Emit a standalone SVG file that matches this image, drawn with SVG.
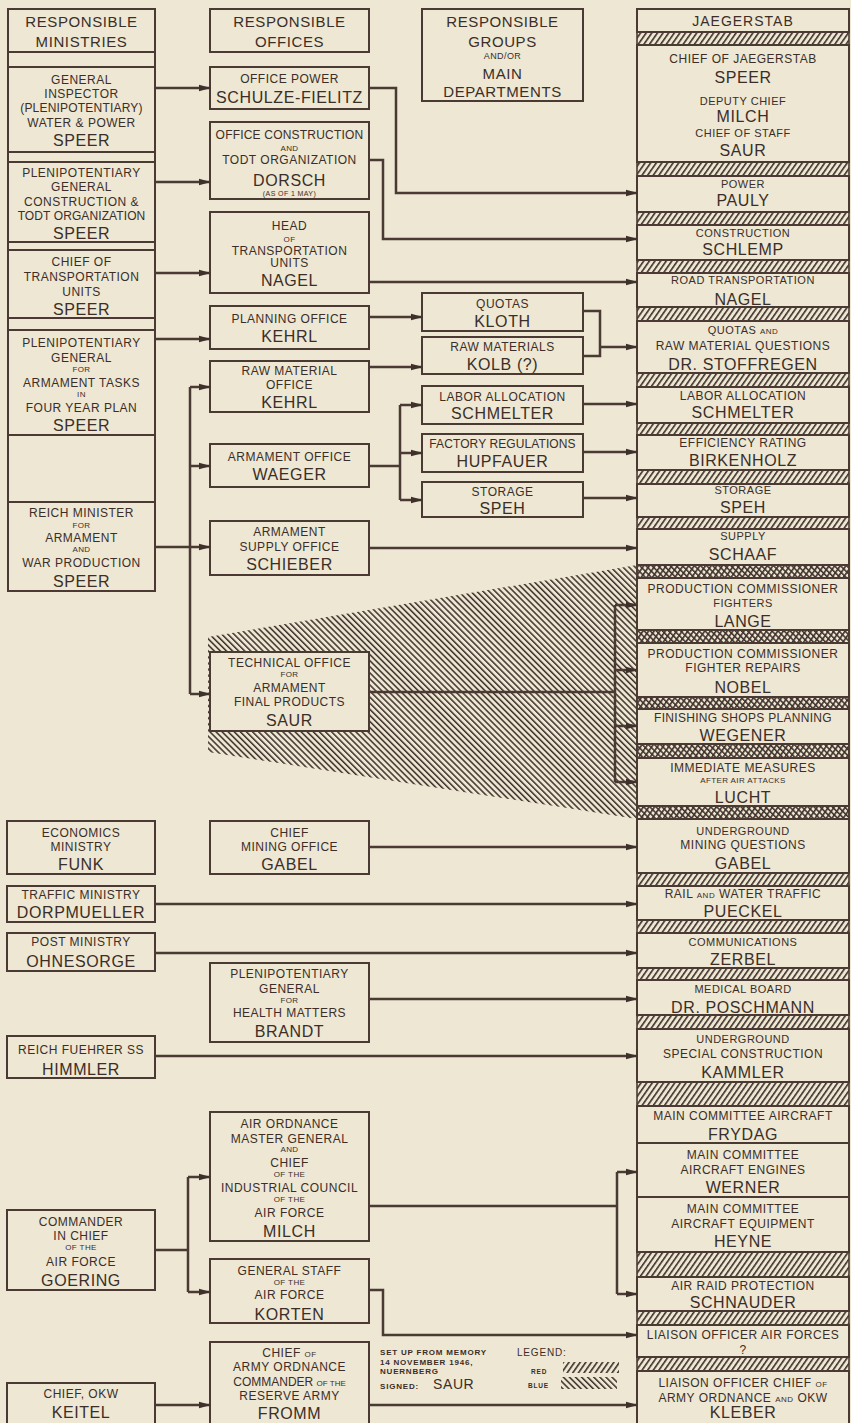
<svg xmlns="http://www.w3.org/2000/svg" width="851" height="1423" viewBox="0 0 851 1423">
<defs>
<style>
.bg{fill:#EDE7D3}
.b{fill:#EDE7D3;stroke:#4a3a33;stroke-width:2}
.st{fill:#EDE7D3;stroke:#4a3a33;stroke-width:2}
.hr{fill:url(#pr);stroke:#4a3a33;stroke-width:1.6}
.hb{fill:url(#pb);stroke:#4a3a33;stroke-width:1.6}
.c{fill:none;stroke:#4a3a33;stroke-width:2.5}
.ca{fill:none;stroke:#4a3a33;stroke-width:2.5;marker-end:url(#ah)}
text{font-family:"Liberation Sans",Arial,sans-serif;fill:#3b2e28;text-anchor:middle}
.h{font-size:15px;letter-spacing:0.6px}
.s{font-size:12px;letter-spacing:0.5px}
.n{font-size:16px;letter-spacing:0.6px}
.x{font-size:8px;letter-spacing:0.4px}
.l{font-size:8px;letter-spacing:0.8px;font-weight:bold;text-anchor:start}
</style>
<pattern id="pr" patternUnits="userSpaceOnUse" width="4.6" height="20" patternTransform="rotate(35)"><rect width="1.6" height="20" fill="#3e302a"/></pattern>
<pattern id="pb" patternUnits="userSpaceOnUse" width="4.3" height="20" patternTransform="rotate(-45)"><rect width="1.5" height="20" fill="#3e302a"/></pattern>
<marker id="ah" markerWidth="12" markerHeight="8" refX="11" refY="4" orient="auto" markerUnits="userSpaceOnUse"><path d="M0,0.8 L12,4 L0,7.2 z" fill="#3e302a"/></marker>
</defs>
<rect class="bg" x="0" y="0" width="851" height="1423"/>

<!-- blue funnel -->
<polygon id="funnel" points="208,637 637,565 637,819 208,752" fill="url(#pb)"/>

<!-- Column 1 -->
<g id="col1-frame">
<rect class="st" x="8" y="52" width="147" height="15"/>
<rect class="st" x="8" y="152" width="147" height="10"/>
<rect class="st" x="8" y="242" width="147" height="8"/>
<rect class="st" x="8" y="318" width="147" height="12"/>
<rect class="st" x="8" y="435" width="147" height="67"/>
</g>
<g id="n_ministries"><rect class="b" x="8" y="9" width="147" height="43"/>
<text class="h" x="81.5" y="27">RESPONSIBLE</text><text class="h" x="81.5" y="47">MINISTRIES</text></g>
<g id="n_gen_inspector"><rect class="b" x="8" y="67" width="147" height="85"/>
<text class="s" x="81.5" y="84">GENERAL</text><text class="s" x="81.5" y="98">INSPECTOR</text><text class="s" x="81.5" y="112" style="letter-spacing:0.2px">(PLENIPOTENTIARY)</text><text class="s" x="81.5" y="127">WATER &amp; POWER</text><text class="n" x="81.5" y="146">SPEER</text></g>
<g id="n_plen_construction"><rect class="b" x="8" y="162" width="147" height="80"/>
<text class="s" x="81.5" y="177">PLENIPOTENTIARY</text><text class="s" x="81.5" y="191">GENERAL</text><text class="s" x="81.5" y="206">CONSTRUCTION &amp;</text><text class="s" x="81.5" y="220" style="letter-spacing:0.1px">TODT ORGANIZATION</text><text class="n" x="81.5" y="239">SPEER</text></g>
<g id="n_chief_transport"><rect class="b" x="8" y="250" width="147" height="68"/>
<text class="s" x="81.5" y="266">CHIEF OF</text><text class="s" x="81.5" y="281">TRANSPORTATION</text><text class="s" x="81.5" y="296">UNITS</text><text class="n" x="81.5" y="315">SPEER</text></g>
<g id="n_plen_armament"><rect class="b" x="8" y="330" width="147" height="105"/>
<text class="s" x="81.5" y="347">PLENIPOTENTIARY</text><text class="s" x="81.5" y="362">GENERAL</text><text class="x" x="81.5" y="372">FOR</text><text class="s" x="81.5" y="387">ARMAMENT TASKS</text><text class="x" x="81.5" y="397">IN</text><text class="s" x="81.5" y="412">FOUR YEAR PLAN</text><text class="n" x="81.5" y="431">SPEER</text></g>
<g id="n_reich_minister"><rect class="b" x="8" y="502" width="147" height="89"/>
<text class="s" x="81.5" y="517">REICH MINISTER</text><text class="x" x="81.5" y="528">FOR</text><text class="s" x="81.5" y="542">ARMAMENT</text><text class="x" x="81.5" y="552">AND</text><text class="s" x="81.5" y="567">WAR PRODUCTION</text><text class="n" x="81.5" y="587">SPEER</text></g>
<g id="n_funk"><rect class="b" x="7" y="821" width="148" height="53"/>
<text class="s" x="81" y="837">ECONOMICS</text><text class="s" x="81" y="851">MINISTRY</text><text class="n" x="81" y="870">FUNK</text></g>
<g id="n_dorpmueller"><rect class="b" x="7" y="886" width="148" height="36"/>
<text class="s" x="81" y="899">TRAFFIC MINISTRY</text><text class="n" x="81" y="918">DORPMUELLER</text></g>
<g id="n_ohnesorge"><rect class="b" x="7" y="933" width="148" height="38"/>
<text class="s" x="81" y="946">POST MINISTRY</text><text class="n" x="81" y="967">OHNESORGE</text></g>
<g id="n_himmler"><rect class="b" x="7" y="1036" width="148" height="42"/>
<text class="s" x="81" y="1054">REICH FUEHRER SS</text><text class="n" x="81" y="1075">HIMMLER</text></g>
<g id="n_goering"><rect class="b" x="7" y="1210" width="148" height="80"/>
<text class="s" x="81" y="1226">COMMANDER</text><text class="s" x="81" y="1240">IN CHIEF</text><text class="x" x="81" y="1250">OF THE</text><text class="s" x="81" y="1266">AIR  FORCE</text><text class="n" x="81" y="1286">GOERING</text></g>
<g id="n_keitel"><rect class="b" x="7" y="1383" width="148" height="50"/>
<text class="s" x="81" y="1398">CHIEF, OKW</text><text class="n" x="81" y="1418">KEITEL</text></g>

<!-- Column 2 -->
<g id="n_offices"><rect class="b" x="210" y="9" width="159" height="43"/>
<text class="h" x="289.5" y="27">RESPONSIBLE</text><text class="h" x="289.5" y="47">OFFICES</text></g>
<g id="n_office_power"><rect class="b" x="210" y="67" width="159" height="42"/>
<text class="s" x="289.5" y="83">OFFICE POWER</text><text class="n" x="289.5" y="103">SCHULZE-FIELITZ</text></g>
<g id="n_office_construction"><rect class="b" x="210" y="122" width="159" height="77"/>
<text class="s" x="289.5" y="139" style="letter-spacing:0.2px">OFFICE CONSTRUCTION</text><text class="x" x="289.5" y="151">AND</text><text class="s" x="289.5" y="164">TODT  ORGANIZATION</text><text class="n" x="289.5" y="186">DORSCH</text><text class="x" x="289.5" y="196" style="font-size:7px">(AS OF 1 MAY)</text></g>
<g id="n_head_transport"><rect class="b" x="210" y="212" width="159" height="81"/>
<text class="s" x="289.5" y="230">HEAD</text><text class="x" x="289.5" y="242">OF</text><text class="s" x="289.5" y="255">TRANSPORTATION</text><text class="s" x="289.5" y="267">UNITS</text><text class="n" x="289.5" y="286">NAGEL</text></g>
<g id="n_planning"><rect class="b" x="210" y="306" width="159" height="43"/>
<text class="s" x="289.5" y="323">PLANNING OFFICE</text><text class="n" x="289.5" y="342">KEHRL</text></g>
<g id="n_raw_material_office"><rect class="b" x="210" y="361" width="159" height="51"/>
<text class="s" x="289.5" y="375">RAW MATERIAL</text><text class="s" x="289.5" y="389">OFFICE</text><text class="n" x="289.5" y="408">KEHRL</text></g>
<g id="n_armament_office"><rect class="b" x="210" y="444" width="159" height="43"/>
<text class="s" x="289.5" y="461">ARMAMENT OFFICE</text><text class="n" x="289.5" y="480">WAEGER</text></g>
<g id="n_supply_office"><rect class="b" x="210" y="521" width="159" height="54"/>
<text class="s" x="289.5" y="536">ARMAMENT</text><text class="s" x="289.5" y="551">SUPPLY OFFICE</text><text class="n" x="289.5" y="570">SCHIEBER</text></g>
<g id="n_technical_office"><rect class="b" x="210" y="652" width="159" height="79"/>
<text class="s" x="289.5" y="667">TECHNICAL OFFICE</text><text class="x" x="289.5" y="677">FOR</text><text class="s" x="289.5" y="692">ARMAMENT</text><text class="s" x="289.5" y="706">FINAL PRODUCTS</text><text class="n" x="289.5" y="726">SAUR</text></g>
<g id="n_mining_office"><rect class="b" x="210" y="821" width="159" height="53"/>
<text class="s" x="289.5" y="837">CHIEF</text><text class="s" x="289.5" y="851">MINING OFFICE</text><text class="n" x="289.5" y="870">GABEL</text></g>
<g id="n_health"><rect class="b" x="210" y="963" width="159" height="79"/>
<text class="s" x="289.5" y="978">PLENIPOTENTIARY</text><text class="s" x="289.5" y="993">GENERAL</text><text class="x" x="289.5" y="1003">FOR</text><text class="s" x="289.5" y="1017">HEALTH MATTERS</text><text class="n" x="289.5" y="1037">BRANDT</text></g>
<g id="n_milch_office"><rect class="b" x="210" y="1112" width="159" height="129"/>
<text class="s" x="289.5" y="1128">AIR ORDNANCE</text><text class="s" x="289.5" y="1143">MASTER GENERAL</text><text class="x" x="289.5" y="1152">AND</text><text class="s" x="289.5" y="1167">CHIEF</text><text class="x" x="289.5" y="1177">OF THE</text><text class="s" x="289.5" y="1192">INDUSTRIAL COUNCIL</text><text class="x" x="289.5" y="1202">OF THE</text><text class="s" x="289.5" y="1217">AIR  FORCE</text><text class="n" x="289.5" y="1237">MILCH</text></g>
<g id="n_korten"><rect class="b" x="210" y="1259" width="159" height="64"/>
<text class="s" x="289.5" y="1275">GENERAL STAFF</text><text class="x" x="289.5" y="1285">OF THE</text><text class="s" x="289.5" y="1299">AIR  FORCE</text><text class="n" x="289.5" y="1320">KORTEN</text></g>
<g id="n_fromm"><rect class="b" x="210" y="1342" width="159" height="95"/>
<text class="s" x="289.5" y="1357">CHIEF <tspan style="font-size:8px">OF</tspan></text><text class="s" x="289.5" y="1371">ARMY ORDNANCE</text><text class="s" x="289.5" y="1386" style="letter-spacing:0px">COMMANDER <tspan style="font-size:8px">OF THE</tspan></text><text class="s" x="289.5" y="1400">RESERVE  ARMY</text><text class="n" x="289.5" y="1419">FROMM</text></g>

<!-- Column 3 -->
<g id="n_groups"><rect class="b" x="422" y="9" width="161" height="92"/>
<text class="h" x="502.5" y="27">RESPONSIBLE</text><text class="h" x="502.5" y="47">GROUPS</text><text class="x" x="502.5" y="59" style="font-size:9px">AND/OR</text><text class="h" x="502.5" y="79">MAIN</text><text class="h" x="502.5" y="97">DEPARTMENTS</text></g>
<g id="n_kloth"><rect class="b" x="422" y="293" width="161" height="38"/>
<text class="s" x="502.5" y="308">QUOTAS</text><text class="n" x="502.5" y="327">KLOTH</text></g>
<g id="n_kolb"><rect class="b" x="422" y="337" width="161" height="37"/>
<text class="s" x="502.5" y="351">RAW MATERIALS</text><text class="n" x="502.5" y="370">KOLB (?)</text></g>
<g id="n_labor3"><rect class="b" x="422" y="386" width="161" height="38"/>
<text class="s" x="502.5" y="401">LABOR ALLOCATION</text><text class="n" x="502.5" y="419">SCHMELTER</text></g>
<g id="n_factory"><rect class="b" x="422" y="434" width="161" height="38"/>
<text class="s" x="502.5" y="448" style="letter-spacing:0.1px">FACTORY REGULATIONS</text><text class="n" x="502.5" y="467">HUPFAUER</text></g>
<g id="n_storage3"><rect class="b" x="422" y="482" width="161" height="35"/>
<text class="s" x="502.5" y="496">STORAGE</text><text class="n" x="502.5" y="514">SPEH</text></g>

<!-- Column 4 hatched strips -->
<g id="strips">
<rect class="hr" x="637" y="32" width="212" height="13"/>
<rect class="hr" x="637" y="162" width="212" height="14"/>
<rect class="hr" x="637" y="212" width="212" height="13"/>
<rect class="hr" x="637" y="260" width="212" height="13"/>
<rect class="hr" x="637" y="307" width="212" height="14"/>
<rect class="hr" x="637" y="373" width="212" height="14"/>
<rect class="hr" x="637" y="423" width="212" height="12"/>
<rect class="hr" x="637" y="470" width="212" height="14"/>
<rect class="hr" x="637" y="517" width="212" height="12"/>
<rect class="hr" x="637" y="565" width="212" height="13"/><rect class="hb" x="637" y="565" width="212" height="13"/>
<rect class="hr" x="637" y="630" width="212" height="13"/><rect class="hb" x="637" y="630" width="212" height="13"/>
<rect class="hr" x="637" y="697" width="212" height="12"/><rect class="hb" x="637" y="697" width="212" height="12"/>
<rect class="hr" x="637" y="744" width="212" height="14"/><rect class="hb" x="637" y="744" width="212" height="14"/>
<rect class="hr" x="637" y="806" width="212" height="13"/><rect class="hb" x="637" y="806" width="212" height="13"/>
<rect class="hr" x="637" y="873" width="212" height="13"/>
<rect class="hr" x="637" y="920" width="212" height="13"/>
<rect class="hr" x="637" y="968" width="212" height="12"/>
<rect class="hr" x="637" y="1015" width="212" height="14"/>
<rect class="hr" x="637" y="1082" width="212" height="24"/>
<rect class="hr" x="637" y="1252" width="212" height="25"/>
<rect class="hr" x="637" y="1311" width="212" height="14"/>
<rect class="hr" x="637" y="1357" width="212" height="14"/>
</g>

<!-- Column 4 nodes -->
<g id="n_jaegerstab"><rect class="b" x="637" y="9" width="212" height="23"/>
<text class="s" x="743" y="26" style="font-size:14px;letter-spacing:1px">JAEGERSTAB</text></g>
<g id="n_chief_jaegerstab"><rect class="b" x="637" y="45" width="212" height="117"/>
<text class="s" x="743" y="63">CHIEF OF JAEGERSTAB</text><text class="n" x="743" y="83">SPEER</text><text class="s" x="743" y="105" style="font-size:11px">DEPUTY CHIEF</text><text class="n" x="743" y="122">MILCH</text><text class="s" x="743" y="137" style="font-size:11px">CHIEF OF STAFF</text><text class="n" x="743" y="156">SAUR</text></g>
<g id="n_power"><rect class="b" x="637" y="176" width="212" height="36"/>
<text class="s" x="743" y="188" style="font-size:11px">POWER</text><text class="n" x="743" y="206">PAULY</text></g>
<g id="n_construction"><rect class="b" x="637" y="225" width="212" height="35"/>
<text class="s" x="743" y="237" style="font-size:11px">CONSTRUCTION</text><text class="n" x="743" y="255">SCHLEMP</text></g>
<g id="n_road"><rect class="b" x="637" y="273" width="212" height="34"/>
<text class="s" x="743" y="284" style="font-size:11px">ROAD TRANSPORTATION</text><text class="n" x="743" y="305">NAGEL</text></g>
<g id="n_quotas"><rect class="b" x="637" y="321" width="212" height="52"/>
<text class="s" x="743" y="334" style="font-size:11px">QUOTAS <tspan style="font-size:8px">AND</tspan></text><text class="s" x="743" y="350">RAW MATERIAL QUESTIONS</text><text class="n" x="743" y="370">DR. STOFFREGEN</text></g>
<g id="n_labor4"><rect class="b" x="637" y="387" width="212" height="36"/>
<text class="s" x="743" y="400">LABOR ALLOCATION</text><text class="n" x="743" y="418">SCHMELTER</text></g>
<g id="n_efficiency"><rect class="b" x="637" y="435" width="212" height="35"/>
<text class="s" x="743" y="447">EFFICIENCY RATING</text><text class="n" x="743" y="466">BIRKENHOLZ</text></g>
<g id="n_storage4"><rect class="b" x="637" y="484" width="212" height="33"/>
<text class="s" x="743" y="494" style="font-size:11px">STORAGE</text><text class="n" x="743" y="513">SPEH</text></g>
<g id="n_supply"><rect class="b" x="637" y="529" width="212" height="36"/>
<text class="s" x="743" y="540" style="font-size:11px">SUPPLY</text><text class="n" x="743" y="560">SCHAAF</text></g>
<g id="n_fighters"><rect class="b" x="637" y="578" width="212" height="52"/>
<text class="s" x="743" y="593">PRODUCTION COMMISSIONER</text><text class="s" x="743" y="607" style="font-size:11px">FIGHTERS</text><text class="n" x="743" y="627">LANGE</text></g>
<g id="n_repairs"><rect class="b" x="637" y="643" width="212" height="54"/>
<text class="s" x="743" y="658">PRODUCTION COMMISSIONER</text><text class="s" x="743" y="672">FIGHTER REPAIRS</text><text class="n" x="743" y="693">NOBEL</text></g>
<g id="n_finishing"><rect class="b" x="637" y="709" width="212" height="35"/>
<text class="s" x="743" y="722" style="letter-spacing:0.3px">FINISHING SHOPS PLANNING</text><text class="n" x="743" y="741">WEGENER</text></g>
<g id="n_immediate"><rect class="b" x="637" y="758" width="212" height="48"/>
<text class="s" x="743" y="772">IMMEDIATE MEASURES</text><text class="x" x="743" y="783">AFTER AIR ATTACKS</text><text class="n" x="743" y="803">LUCHT</text></g>
<g id="n_mining"><rect class="b" x="637" y="819" width="212" height="54"/>
<text class="s" x="743" y="835" style="font-size:11px">UNDERGROUND</text><text class="s" x="743" y="849">MINING QUESTIONS</text><text class="n" x="743" y="869">GABEL</text></g>
<g id="n_rail"><rect class="b" x="637" y="886" width="212" height="34"/>
<text class="s" x="743" y="898">RAIL <tspan style="font-size:8px">AND</tspan> WATER  TRAFFIC</text><text class="n" x="743" y="917">PUECKEL</text></g>
<g id="n_comm"><rect class="b" x="637" y="933" width="212" height="35"/>
<text class="s" x="743" y="946" style="font-size:11px">COMMUNICATIONS</text><text class="n" x="743" y="965">ZERBEL</text></g>
<g id="n_medical"><rect class="b" x="637" y="980" width="212" height="35"/>
<text class="s" x="743" y="993" style="font-size:11px">MEDICAL  BOARD</text><text class="n" x="743" y="1013">DR. POSCHMANN</text></g>
<g id="n_special"><rect class="b" x="637" y="1029" width="212" height="53"/>
<text class="s" x="743" y="1043" style="font-size:11px">UNDERGROUND</text><text class="s" x="743" y="1058">SPECIAL  CONSTRUCTION</text><text class="n" x="743" y="1078">KAMMLER</text></g>
<g id="n_frydag"><rect class="b" x="637" y="1106" width="212" height="37"/>
<text class="s" x="743" y="1120">MAIN COMMITTEE  AIRCRAFT</text><text class="n" x="743" y="1140">FRYDAG</text></g>
<g id="n_werner"><rect class="b" x="637" y="1143" width="212" height="54"/>
<text class="s" x="743" y="1159">MAIN  COMMITTEE</text><text class="s" x="743" y="1174">AIRCRAFT  ENGINES</text><text class="n" x="743" y="1193">WERNER</text></g>
<g id="n_heyne"><rect class="b" x="637" y="1197" width="212" height="55"/>
<text class="s" x="743" y="1213">MAIN  COMMITTEE</text><text class="s" x="743" y="1228">AIRCRAFT  EQUIPMENT</text><text class="n" x="743" y="1247">HEYNE</text></g>
<g id="n_airraid"><rect class="b" x="637" y="1277" width="212" height="34"/>
<text class="s" x="743" y="1290">AIR RAID PROTECTION</text><text class="n" x="743" y="1308">SCHNAUDER</text></g>
<g id="n_liaison_air"><rect class="b" x="637" y="1325" width="212" height="32"/>
<text class="s" x="743" y="1339">LIAISON OFFICER AIR FORCES</text><text class="s" x="743" y="1354">?</text></g>
<g id="n_kleber"><rect class="b" x="637" y="1371" width="212" height="60"/>
<text class="s" x="743" y="1387">LIAISON  OFFICER  CHIEF <tspan style="font-size:8px">OF</tspan></text><text class="s" x="743" y="1402">ARMY ORDNANCE <tspan style="font-size:8px">AND</tspan> OKW</text><text class="n" x="743" y="1418">KLEBER</text></g>

<!-- Connectors -->
<g id="connectors">
<polyline class="ca" points="155,88 210,88"/>
<polyline class="ca" points="155,182 210,182"/>
<polyline class="ca" points="155,273 210,273"/>
<polyline class="ca" points="155,339 210,339"/>
<polyline class="ca" points="155,547 210,547"/>
<polyline class="c" points="190,387 190,694"/>
<polyline class="ca" points="190,387 210,387"/>
<polyline class="ca" points="190,466 210,466"/>
<polyline class="ca" points="190,694 210,694"/>
<polyline class="ca" points="369,88 396,88 396,193 637,193"/>
<polyline class="ca" points="369,160 383,160 383,239 637,239"/>
<polyline class="ca" points="369,282 637,282"/>
<polyline class="ca" points="369,317 422,317"/>
<polyline class="ca" points="369,367 422,367"/>
<polyline class="c" points="583,311 600,311 600,356 583,356"/>
<polyline class="ca" points="600,347 637,347"/>
<polyline class="c" points="369,466 400,466"/>
<polyline class="c" points="400,405 400,500"/>
<polyline class="ca" points="400,405 422,405"/>
<polyline class="ca" points="400,453 422,453"/>
<polyline class="ca" points="400,500 422,500"/>
<polyline class="ca" points="583,404 637,404"/>
<polyline class="ca" points="583,452 637,452"/>
<polyline class="ca" points="583,498 637,498"/>
<polyline class="ca" points="369,548 637,548"/>
<polyline class="c" points="369,692 615,692"/>
<polyline class="c" points="615,605 615,782"/>
<polyline class="ca" points="615,605 637,605"/>
<polyline class="ca" points="615,670 637,670"/>
<polyline class="ca" points="615,726 637,726"/>
<polyline class="ca" points="615,782 637,782"/>
<polyline class="ca" points="369,847 637,847"/>
<polyline class="ca" points="155,904 637,904"/>
<polyline class="ca" points="155,953 637,953"/>
<polyline class="ca" points="369,999 637,999"/>
<polyline class="ca" points="155,1056 637,1056"/>
<polyline class="c" points="155,1250 188,1250"/>
<polyline class="c" points="188,1177 188,1292"/>
<polyline class="ca" points="188,1177 210,1177"/>
<polyline class="ca" points="188,1292 210,1292"/>
<polyline class="c" points="369,1206 617,1206"/>
<polyline class="c" points="617,1172 617,1294"/>
<polyline class="ca" points="617,1172 637,1172"/>
<polyline class="ca" points="617,1294 637,1294"/>
<polyline class="ca" points="369,1290 383,1290 383,1335 637,1335"/>
<polyline class="ca" points="369,1405 637,1405"/>
<polyline class="ca" points="155,1405 210,1405"/>
</g>

<!-- Note and legend -->
<g id="note">
<text class="l" x="380" y="1355">SET UP FROM MEMORY</text>
<text class="l" x="380" y="1365">14 NOVEMBER 1946,</text>
<text class="l" x="380" y="1374">NUERNBERG</text>
<text class="l" x="380" y="1389">SIGNED:</text>
<text class="n" x="433" y="1389" style="text-anchor:start;font-size:14px">SAUR</text>
</g>
<g id="legend">
<text class="l" x="517" y="1356" style="font-size:10px;font-weight:normal">LEGEND:</text>
<text class="l" x="531" y="1374" style="font-size:6.5px">RED</text>
<rect x="563" y="1362" width="56" height="11" fill="url(#pr)"/>
<text class="l" x="528" y="1388" style="font-size:6.5px">BLUE</text>
<rect x="561" y="1377" width="56" height="12" fill="url(#pb)"/>
</g>
</svg>
